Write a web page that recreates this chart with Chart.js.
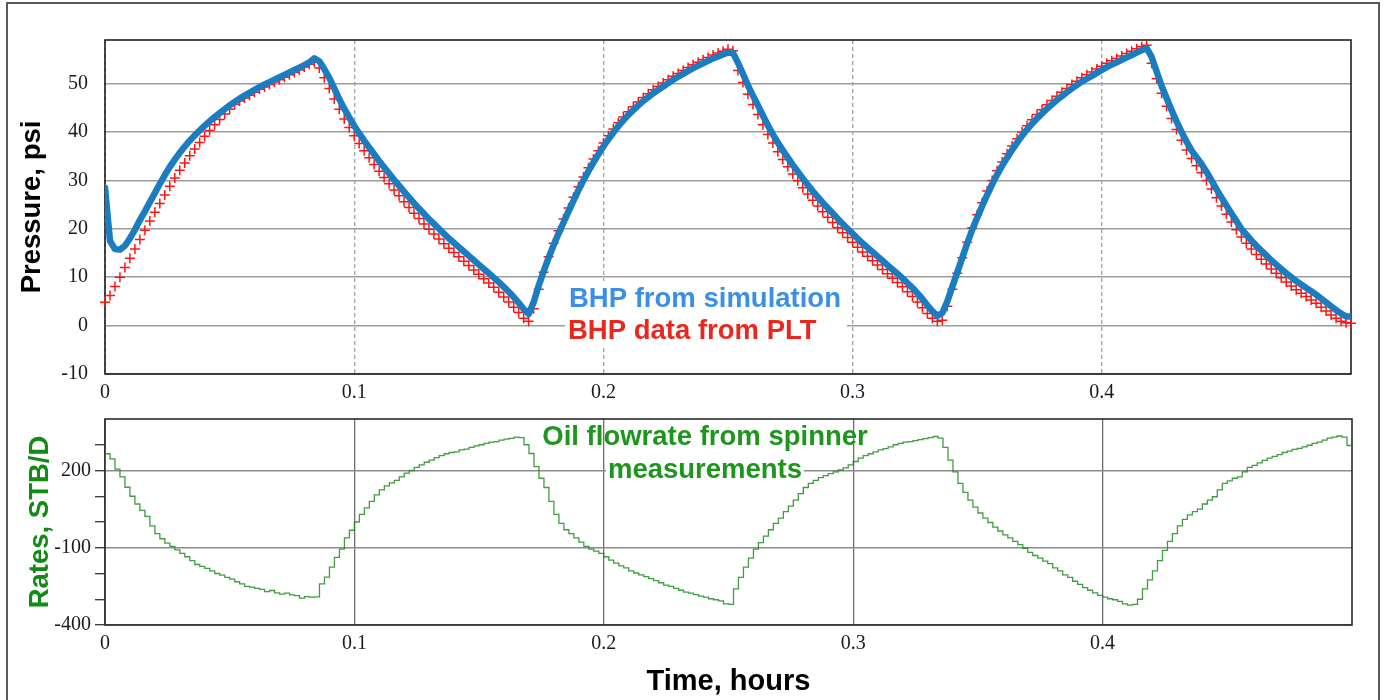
<!DOCTYPE html>
<html><head><meta charset="utf-8">
<script src="https://cdn.jsdelivr.net/npm/chart.js@4.4.1/dist/chart.umd.min.js"></script>
<style>
html,body{margin:0;padding:0;background:#fff;}
#wrap{position:relative;width:1386px;height:700px;overflow:hidden;background:#fff;}
#frame{position:absolute;left:6px;top:2px;width:1374px;height:740px;border:2px solid #5a5a5a;box-sizing:border-box;}
canvas{position:absolute;left:0;}
#c1{top:0;}
#c2{top:400px;}
</style></head><body>
<div id="wrap"><div id="frame"></div>
<canvas id="c1" width="1386" height="410"></canvas>
<canvas id="c2" width="1386" height="300"></canvas>
</div>
<script>
// ---- data (sampled every TIME_STEP hours, starting at t = 0) ----
const TIME_STEP = 0.002;
const timeTicks = [0, 0.1, 0.2, 0.3, 0.4];
const pressureTicks = [-10, 0, 10, 20, 30, 40, 50];
const rateTicks = [-400, -300, -200, -100, 0, 100, 200, 300];
const rateLabels = [-400, -100, 200];

// BHP from simulation, psi
const pressureSim = [
28.5,17.5,15.8,15.7,16.5,18,19.8,21.8,23.6,25.5,
27.4,29.3,31.1,32.8,34.3,35.7,37,38.2,39.3,40.3,
41.3,42.2,43.1,43.9,44.7,45.5,46.2,46.9,47.5,48.1,
48.7,49.3,49.8,50.3,50.8,51.3,51.8,52.3,52.8,53.3,
53.8,54.4,55.2,54.6,53,51.2,49,46.8,44.8,43,
41.3,39.7,38.2,36.8,35.4,34,32.7,31.4,30.1,28.9,
27.7,26.5,25.3,24.2,23.1,22,21,20,19,18,
17.1,16.2,15.3,14.4,13.5,12.6,11.7,10.8,9.9,9,
8,7,5.9,4.7,3.4,2.4,4.8,8.2,11.2,14,
16.6,19,21.3,23.6,25.8,28,30,31.9,33.7,35.4,
37,38.5,39.9,41.2,42.4,43.5,44.5,45.5,46.4,47.2,
48,48.7,49.4,50.1,50.8,51.4,52,52.6,53.2,53.7,
54.2,54.7,55.2,55.6,56,56.4,56.3,54.3,52,49.6,
47.5,45.5,43.4,41.4,39.5,37.8,36.2,34.7,33.2,31.8,
30.4,29.1,27.8,26.6,25.4,24.3,23.2,22.1,21,20,
19,18,17,16.1,15.2,14.3,13.4,12.5,11.6,10.7,
9.8,8.8,7.8,6.7,5.5,4.2,3,2,2.6,5,
8,11,14,17,19.8,22.3,24.7,27,29.2,31.2,
33,34.7,36.3,37.8,39.2,40.5,41.7,42.8,43.8,44.8,
45.7,46.6,47.4,48.2,49,49.7,50.4,51,51.6,52.2,
52.8,53.4,53.9,54.4,54.9,55.4,55.9,56.4,56.9,57.3,
55.5,52.5,49.5,47,44.5,42.2,40,38,36.2,34.8,
33.4,31.8,30,28.2,26.5,24.8,23.2,21.6,20,18.8,
17.6,16.5,15.5,14.5,13.5,12.6,11.7,10.8,10,9.2,
8.5,7.8,7.1,6.4,5.6,4.8,4,3.2,2.5,1.9,
1.9];

// BHP data from PLT, psi
const pressurePLT = [
4.8,6.2,8.1,10,12,13.9,15.8,17.8,19.7,21.6,
23.4,25.2,27,28.8,30.5,32.1,33.6,35.1,36.5,37.8,
39.1,40.3,41.5,42.6,43.7,44.7,45.7,46.4,47,47.6,
48.2,48.8,49.3,49.8,50.3,50.8,51.3,51.8,52.3,52.8,
53.4,54,54.4,53.2,51.2,49,46.8,44.7,42.7,40.9,
39.2,37.6,36.1,34.7,33.3,31.9,30.6,29.3,28,26.8,
25.6,24.4,23.2,22.1,21,19.9,18.9,17.9,16.9,16,
15.1,14.2,13.3,12.4,11.5,10.6,9.7,8.8,7.9,6.9,
5.9,4.9,3.8,2.7,1.5,0.9,3.5,7.5,11,14.2,
17,19.6,22,24.3,26.5,28.7,30.7,32.6,34.4,36.1,
37.7,39.2,40.6,41.9,43.1,44.2,45.2,46.2,47.1,47.9,
48.7,49.4,50.1,50.8,51.5,52.1,52.7,53.3,53.9,54.4,
54.9,55.4,55.9,56.3,56.7,57.1,56.8,52.7,50.2,47.8,
45.7,43.6,41.5,39.5,37.7,35.9,34.3,32.8,31.3,29.9,
28.5,27.2,25.9,24.7,23.5,22.4,21.3,20.2,19.2,18.2,
17.2,16.2,15.2,14.3,13.4,12.5,11.6,10.7,9.8,8.9,
8,7,6,4.9,3.7,2.5,1.5,0.9,1.1,4,
7.5,10.8,14,17.2,20.2,22.9,25.4,27.8,30,32,
33.8,35.5,37.1,38.6,40,41.3,42.5,43.6,44.6,45.6,
46.5,47.4,48.2,49,49.8,50.5,51.2,51.8,52.4,53,
53.6,54.2,54.7,55.2,55.7,56.2,56.7,57.2,57.6,57.9,
54.2,51,48,45.3,42.8,40.5,38.3,36.3,34.5,33,
31.6,30,28.2,26.4,24.7,23,21.4,19.8,18.3,17,
15.8,14.7,13.7,12.7,11.7,10.8,9.9,9,8.2,7.4,
6.7,6,5.3,4.6,3.8,3,2.2,1.5,0.9,0.6,
0.5];

// Oil flowrate from spinner, STB/D (value holds over the interval ending at the sample)
const oilRate = [
0,265,245,205,175,135,100,70,45,22,
-15,-45,-65,-82,-95,-108,-122,-135,-150,-165,
-172,-180,-190,-200,-206,-215,-222,-232,-240,-250,
-253,-258,-262,-270,-266,-275,-280,-276,-283,-286,
-296,-290,-292,-291,-240,-214,-175,-137,-105,-62,
-32,0,30,55,80,105,125,140,152,162,
175,190,200,212,222,232,240,250,258,265,
270,272,280,283,290,296,300,305,310,312,
318,322,325,330,328,300,266,215,170,134,
80,30,-5,-30,-45,-62,-78,-95,-105,-113,
-122,-135,-148,-160,-170,-178,-190,-198,-205,-212,
-220,-228,-236,-245,-250,-258,-265,-272,-276,-282,
-288,-292,-298,-302,-306,-318,-320,-260,-215,-175,
-140,-105,-80,-55,-30,-5,15,40,62,85,
110,134,150,162,172,180,188,195,202,210,
222,235,248,258,265,272,280,285,292,300,
305,310,312,316,320,324,328,332,326,290,
240,195,150,115,85,58,35,15,-2,-20,
-35,-50,-62,-75,-88,-102,-118,-130,-140,-152,
-162,-178,-190,-205,-215,-230,-242,-255,-265,-275,
-285,-292,-298,-302,-308,-318,-323,-320,-300,-260,
-225,-190,-150,-110,-75,-45,-15,10,28,40,
50,70,85,98,125,150,160,170,175,195,
212,220,230,239,248,255,262,270,275,282,
286,292,298,305,310,318,326,330,334,330,
297];

// ---- helpers ----
const toPoints = arr => arr.map((v, i) => ({ x: +(i * TIME_STEP).toFixed(4), y: v }));
const fmtTime = v => (v === 0 ? '0' : Number(v).toFixed(1));
const SANS = "'Liberation Sans', Arial, sans-serif";
const SERIF = "'Liberation Serif', 'Times New Roman', serif";
const tickFont = { family: SERIF, size: 20 };
const tickColor = '#1a1a22';

const framePlugin = {
  id: 'frame',
  defaults: { color: '#222', width: 1.6 },
  beforeDatasetsDraw(chart, args, opts) {
    const { ctx, chartArea: a } = chart;
    ctx.save();
    ctx.strokeStyle = opts.color;
    ctx.lineWidth = opts.width;
    ctx.strokeRect(a.left, a.top, a.right - a.left, a.bottom - a.top);
    ctx.restore();
  }
};
const notesPlugin = {
  id: 'notes',
  afterDraw(chart, args, opts) {
    const ctx = chart.ctx;
    (opts.items || []).forEach(n => {
      ctx.save();
      if (n.bg) { ctx.fillStyle = '#fff'; ctx.fillRect(n.bg[0], n.bg[1], n.bg[2], n.bg[3]); }
      if (n.text) {
        ctx.font = n.font;
        ctx.textAlign = n.align || 'left';
        ctx.textBaseline = 'alphabetic';
        ctx.fillStyle = n.color;
        ctx.fillText(n.text, n.x, n.y);
      }
      ctx.restore();
    });
  }
};
Chart.register(framePlugin, notesPlugin);

// ---- top chart: pressure ----
new Chart(document.getElementById('c1'), {
  type: 'line',
  data: {
    datasets: [
      { label: 'BHP from simulation', data: toPoints(pressureSim), borderColor: '#1b7cc0',
        borderWidth: 6.5, pointRadius: 0, borderJoinStyle: 'round', borderCapStyle: 'round', tension: 0 },
      { label: 'BHP data from PLT', data: toPoints(pressurePLT), showLine: false, pointStyle: 'cross',
        pointRadius: 5, pointBorderWidth: 1.5, pointBorderColor: '#ff1414', pointBackgroundColor: '#ff1414', clip: false }
    ]
  },
  options: {
    responsive: false, animation: false, events: [],
    layout: { padding: { top: 40, right: 35, left: 0, bottom: 0 } },
    plugins: {
      legend: { display: false }, tooltip: { enabled: false },
      frame: { color: '#1e1e1e', width: 1.6 },
      notes: { items: [
        { bg: [565, 281, 282, 64] },
        { text: 'BHP from simulation', x: 569, y: 307, color: '#3b8fe6', font: `bold 27.5px ${SANS}` },
        { text: 'BHP data from PLT', x: 568, y: 339, color: '#e8281e', font: `bold 27.5px ${SANS}` }
      ] }
    },
    scales: {
      x: {
        type: 'linear', min: 0, max: 0.5,
        afterBuildTicks: s => { s.ticks = timeTicks.map(v => ({ value: v })); },
        afterFit: s => { s.height = 36; },
        grid: { color: '#a8a8a8', lineWidth: 1.4, drawTicks: false },
        border: { display: false, dash: [4, 3] },
        ticks: { padding: 7, font: tickFont, color: tickColor, maxRotation: 0, autoSkip: false, callback: v => fmtTime(v) }
      },
      y: {
        min: -10, max: 59,
        afterBuildTicks: s => { s.ticks = pressureTicks.map(v => ({ value: v })); },
        afterFit: s => { s.width = 105; },
        grid: { color: '#9c9c9c', lineWidth: 1.6, drawTicks: false },
        border: { display: false },
        ticks: { padding: 17, font: tickFont, color: tickColor, autoSkip: false },
        title: { display: true, text: 'Pressure, psi', color: '#000',
          font: { family: SANS, size: 27.5, weight: 'bold' }, padding: { top: 15.5, bottom: 0 } }
      }
    }
  }
});

// ---- bottom chart: rates ----
new Chart(document.getElementById('c2'), {
  type: 'line',
  data: {
    datasets: [
      { label: 'Oil flowrate from spinner measurements', data: toPoints(oilRate), stepped: 'after',
        borderColor: 'rgba(30,140,30,0.85)', borderWidth: 1.3, pointRadius: 0 }
    ]
  },
  options: {
    responsive: false, animation: false, events: [],
    layout: { padding: { top: 19, right: 34, left: 0, bottom: 0 } },
    plugins: {
      legend: { display: false }, tooltip: { enabled: false },
      frame: { color: '#2a2a2a', width: 1.6 },
      notes: { items: [
        { text: 'Oil flowrate from spinner', x: 705, y: 45, align: 'center', color: '#1d961d', font: `bold 27.5px ${SANS}` },
        { bg: [606, 55, 198, 27] },
        { text: 'measurements', x: 705, y: 78, align: 'center', color: '#1d961d', font: `bold 27.5px ${SANS}` }
      ] }
    },
    scales: {
      x: {
        type: 'linear', min: 0, max: 0.5,
        afterBuildTicks: s => { s.ticks = timeTicks.map(v => ({ value: v })); },
        afterFit: s => { s.height = 75; },
        grid: { color: '#6e6e6e', lineWidth: 1.3, drawTicks: false },
        border: { display: false },
        ticks: { padding: 6.5, font: tickFont, color: tickColor, maxRotation: 0, autoSkip: false, callback: v => fmtTime(v) },
        title: { display: true, text: 'Time, hours', color: '#000',
          font: { family: SANS, size: 29, weight: 'bold' }, padding: { top: 0, bottom: 1 } }
      },
      y: {
        min: -400, max: 400,
        afterBuildTicks: s => { s.ticks = rateTicks.map(v => ({ value: v })); },
        afterFit: s => { s.width = 105; },
        grid: {
          color: c => (c.tick && rateLabels.includes(c.tick.value) ? '#8c8c8c' : 'rgba(0,0,0,0)'),
          lineWidth: 1.4, drawTicks: true, tickLength: 10, tickColor: '#333', tickWidth: 1.3
        },
        border: { display: false },
        ticks: { padding: 4, font: tickFont, color: tickColor, autoSkip: false,
          callback: v => (rateLabels.includes(v) ? String(v) : '') },
        title: { display: true, text: 'Rates, STB/D', color: '#138a13',
          font: { family: SANS, size: 27.5, weight: 'bold' }, padding: { top: 23.5, bottom: 0 } }
      }
    }
  }
});
</script>
</body></html>
